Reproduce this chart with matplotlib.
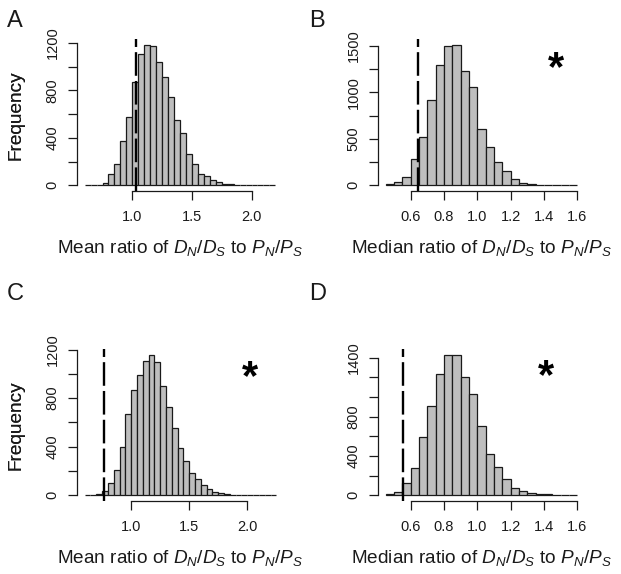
import numpy as np
import matplotlib
matplotlib.use("Agg")
import matplotlib.pyplot as plt

plt.rcParams['font.family'] = ['Liberation Sans', 'DejaVu Sans']
plt.rcParams['mathtext.fontset'] = 'custom'
plt.rcParams['mathtext.rm'] = 'Liberation Sans'
plt.rcParams['mathtext.it'] = 'Liberation Sans:italic'

# histogram counts, bin width 0.05
start_a = 0.60
counts_a = [0, 1, 4, 22, 92, 182, 374, 575, 872, 1108, 1184, 1175, 1042, 915, 740,
            547, 437, 268, 178, 96, 83, 47, 28, 12, 8, 6, 3, 2, 1, 1, 0, 1]
start_b = 0.45
counts_b = [12, 32, 93, 279, 525, 924, 1300, 1504, 1515, 1232, 1060, 605, 408, 249,
            150, 64, 29, 15, 9, 5, 3, 2, 1]
start_c = 0.60
counts_c = [0, 2, 10, 36, 102, 212, 394, 667, 864, 994, 1105, 1158, 1095, 904, 726,
            557, 388, 285, 186, 137, 88, 55, 25, 19, 11, 6, 4, 3, 2, 1, 1, 0, 1]
start_d = 0.45
counts_d = [14, 38, 122, 283, 594, 913, 1238, 1432, 1426, 1204, 1035, 707, 426, 291,
            162, 77, 44, 28, 14, 10, 6, 3, 2]
binw = 0.05

observed = [1.034, 0.642, 0.768, 0.556]
star_pos = [None, (1.474, 1250), (2.02, 968), (1.414, 1205)]

xticks_mean = [1.0, 1.5, 2.0]
xticks_median = [0.6, 0.8, 1.0, 1.2, 1.4, 1.6]
yticks = [np.arange(0, 1201, 200), np.arange(0, 1501, 250),
          np.arange(0, 1201, 200), np.arange(0, 1401, 200)]
ylabels_shown = [[0, 400, 800, 1200], [0, 500, 1000, 1500],
                 [0, 400, 800, 1200], [0, 400, 800, 1400]]

xlab_mean = r"Mean ratio of $D_N/D_S$ to $P_N/P_S$"
xlab_median = r"Median ratio of $D_N/D_S$ to $P_N/P_S$"

panels = [("A", start_a, counts_a, xticks_mean, xlab_mean),
          ("B", start_b, counts_b, xticks_median, xlab_median),
          ("C", start_c, counts_c, xticks_mean, xlab_mean),
          ("D", start_d, counts_d, xticks_median, xlab_median)]

W, H = 621, 574
fig = plt.figure(figsize=(W / 100, H / 100), dpi=100)
fig.patch.set_facecolor("white")

boxes = [(77, 39, 283, 191), (378, 39, 585, 191),
         (77, 349, 284, 501), (378, 349, 585, 501)]
letter_xy = [(7, 27), (309, 27), (7, 300), (309, 300)]

for i, (letter, start, counts, xt, xlab) in enumerate(panels):
    l, t, r, b = boxes[i]
    ax = fig.add_axes([l / W, 1 - b / H, (r - l) / W, (b - t) / H])
    counts = np.array(counts, float)
    edges = start + binw * np.arange(len(counts) + 1)
    ax.bar(edges[:-1], counts, width=binw, align="edge", color="#bebebe",
           edgecolor="#1a1a1a", linewidth=0.9)
    lo, hi = edges[0], edges[-1]
    ax.set_xlim(lo - 0.04 * (hi - lo), hi + 0.04 * (hi - lo))
    ymax = counts.max()
    ax.set_ylim(-0.04 * ymax, 1.04 * ymax)
    ax.axvline(observed[i], color="black", lw=1.7, linestyle=(0, (10, 2.2)))

    for s in ["top", "right"]:
        ax.spines[s].set_visible(False)
    ax.spines["left"].set_bounds(yticks[i][0], yticks[i][-1])
    ax.spines["bottom"].set_bounds(xt[0], xt[-1])
    for s in ["left", "bottom"]:
        ax.spines[s].set_linewidth(0.9)
        ax.spines[s].set_color("#1a1a1a")

    ax.set_xticks(xt)
    ax.set_xticklabels(["%.1f" % v for v in xt])
    ax.set_yticks(yticks[i])
    ax.set_yticklabels([str(v) if v in ylabels_shown[i] else "" for v in yticks[i]])
    ax.tick_params(length=6.5, width=0.9, color="#1a1a1a", labelsize=10.5,
                   labelcolor="#1a1a1a")
    ax.tick_params(axis="x", pad=7)
    ax.tick_params(axis="y", pad=6)
    for lab in ax.get_yticklabels():
        lab.set_rotation(90)
        lab.set_va("center")

    ax.set_ylabel("Frequency", fontsize=13.7, color="#1a1a1a")
    ax.yaxis.set_label_coords((25 - l) / (r - l), 0.5)
    ax.set_xlabel(xlab, fontsize=13.7, color="#1a1a1a")
    ax.xaxis.set_label_coords(0.5, -(238 - 191) / (b - t))

    if star_pos[i] is not None:
        ax.text(star_pos[i][0], star_pos[i][1], "*", fontsize=30, fontweight="bold",
                ha="center", va="center", color="black")

    fig.text(letter_xy[i][0] / W, 1 - letter_xy[i][1] / H, letter, fontsize=17,
             color="#1a1a1a", ha="left", va="baseline")

fig.savefig("out.png", dpi=100)
